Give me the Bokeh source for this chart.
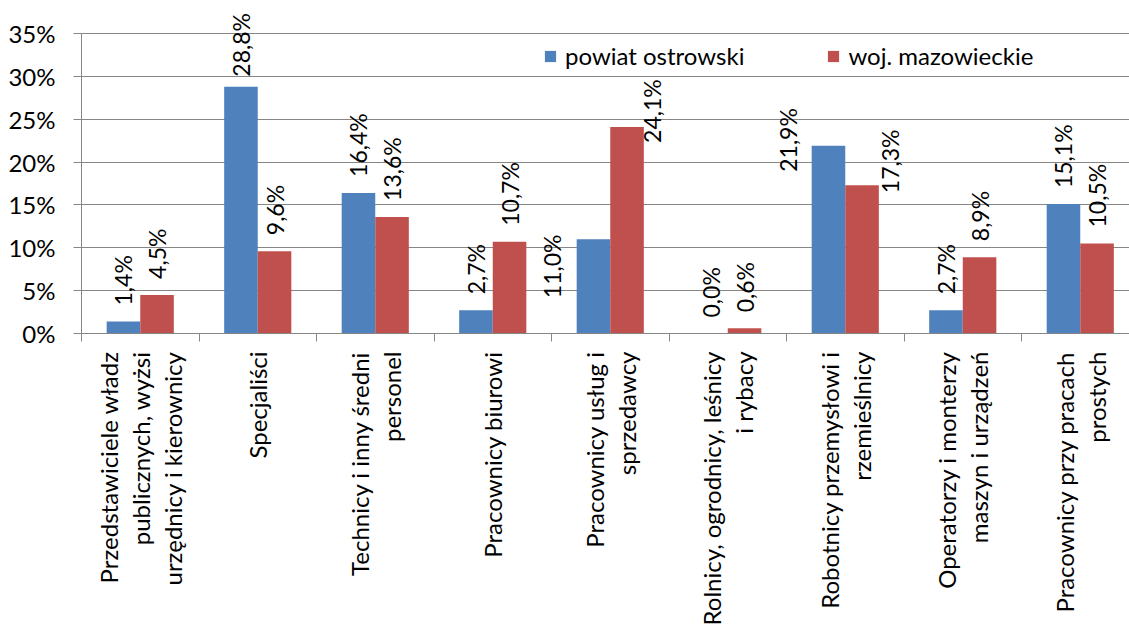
import math
from bokeh.plotting import figure
from bokeh.models import ColumnDataSource, FixedTicker, Range1d, Legend, LegendItem, LinearAxis
from bokeh.core.properties import value
from bokeh.embed import file_html
from bokeh.resources import INLINE

# ---- data ----
categories = [
    "Przedstawiciele władz\npublicznych, wyżsi\nurzędnicy i kierownicy",
    "Specjaliści",
    "Technicy i inny średni\npersonel",
    "Pracownicy biurowi",
    "Pracownicy usług i\nsprzedawcy",
    "Rolnicy, ogrodnicy, leśnicy\ni rybacy",
    "Robotnicy przemysłowi i\nrzemieślnicy",
    "Operatorzy i monterzy\nmaszyn i urządzeń",
    "Pracownicy przy pracach\nprostych",
]
series_names = ["powiat ostrowski", "woj. mazowieckie"]
powiat = [1.4, 28.8, 16.4, 2.7, 11.0, 0.0, 21.9, 2.7, 15.1]
woj = [4.5, 9.6, 13.6, 10.7, 24.1, 0.6, 17.3, 8.9, 10.5]
y_ticks = [0, 5, 10, 15, 20, 25, 30, 35]
y_tick_labels = ["0%", "5%", "10%", "15%", "20%", "25%", "30%", "35%"]

# ---- label placement tweaks (screen px) ----
blue_dx = [0, 0, 0, 0, -41, 0, -40, 0, 0]
blue_gap = [16, 10, 16, 16, -59, 16, -26, 16, 16]
red_dx = [0, 0, 0, 0, 25, 0, 28, 0, 0]
red_gap = [16, 16, 16, 16, -16, 16, -8, 16, 16]

BLUE = "#4F81BD"
RED = "#C0504D"
GRID = "#868686"
FONT = "Lato"
FS = "24px"
FS_LAB = "23px"

n = len(categories)
bw = 1.0 / 3.5
idx = list(range(n))
xb = [i + 0.5 - bw / 2 for i in idx]
xr = [i + 0.5 + bw / 2 for i in idx]

def fmt(v):
    return ("%.1f%%" % v).replace(".", ",")

src_b = ColumnDataSource(dict(x=xb, top=powiat, lab=[fmt(v) for v in powiat],
                              dx=blue_dx, dy=[-g for g in blue_gap]))
src_r = ColumnDataSource(dict(x=xr, top=woj, lab=[fmt(v) for v in woj],
                              dx=red_dx, dy=[-g for g in red_gap]))

p = figure(width=1129, height=635, output_backend="svg", toolbar_location=None,
           x_range=Range1d(0, 8.919), y_range=Range1d(0, 37.45),
           min_border_left=81, min_border_right=0, min_border_top=12, min_border_bottom=302,
           x_axis_type=None)
p.outline_line_color = None
p.background_fill_color = "white"

rb = p.vbar(x="x", top="top", width=bw, source=src_b, fill_color=BLUE, line_color=None)
rr = p.vbar(x="x", top="top", width=bw, source=src_r, fill_color=RED, line_color=None)

for src in (src_b, src_r):
    p.text(x="x", y="top", text="lab", source=src, angle=math.pi / 2,
           x_offset="dx", y_offset="dy", text_align="left", text_baseline="middle",
           text_font=value(FONT), text_font_size=FS_LAB, text_color="black")

# y axis
ya = p.yaxis[0]
ya.ticker = FixedTicker(ticks=y_ticks)
ya.major_label_overrides = {t: l for t, l in zip(y_ticks, y_tick_labels)}
ya.bounds = (0, 35)
ya.axis_line_color = GRID
ya.major_tick_line_color = GRID
ya.major_tick_out = 8
ya.major_tick_in = 0
ya.minor_tick_line_color = None
ya.major_label_text_font = FONT
ya.major_label_text_font_size = FS
ya.major_label_text_color = "black"
ya.major_label_standoff = 18

p.ygrid.ticker = FixedTicker(ticks=y_ticks)
p.ygrid.grid_line_color = GRID
p.xgrid.grid_line_color = None

# x axis: boundary ticks as minor ticks, labels at centers
centers = [i + 0.5 for i in idx]
xa = LinearAxis(ticker=FixedTicker(ticks=centers, minor_ticks=list(range(n + 1))))
xa.major_label_overrides = {c: lab for c, lab in zip(centers, categories)}
xa.major_label_orientation = math.pi / 2
xa.axis_line_color = GRID
xa.major_tick_line_color = None
xa.major_tick_out = 0
xa.major_tick_in = 0
xa.minor_tick_line_color = GRID
xa.minor_tick_out = 8
xa.minor_tick_in = 0
xa.major_label_text_font = FONT
xa.major_label_text_font_size = FS
xa.major_label_text_color = "black"
xa.major_label_text_line_height = 1.1
xa.major_label_text_align = "center"
xa.major_label_standoff = 10
p.add_layout(xa, "below")

legend = Legend(items=[LegendItem(label=series_names[0], renderers=[rb]),
                       LegendItem(label=series_names[1], renderers=[rr])],
                orientation="horizontal", location=(462, 263),
                glyph_width=14, glyph_height=14, label_standoff=8, spacing=82,
                padding=0, margin=0, border_line_color=None, background_fill_alpha=0,
                label_text_font=FONT, label_text_font_size=FS, label_text_color="black")
p.add_layout(legend)

open("out.html", "w").write(file_html(p, INLINE))
